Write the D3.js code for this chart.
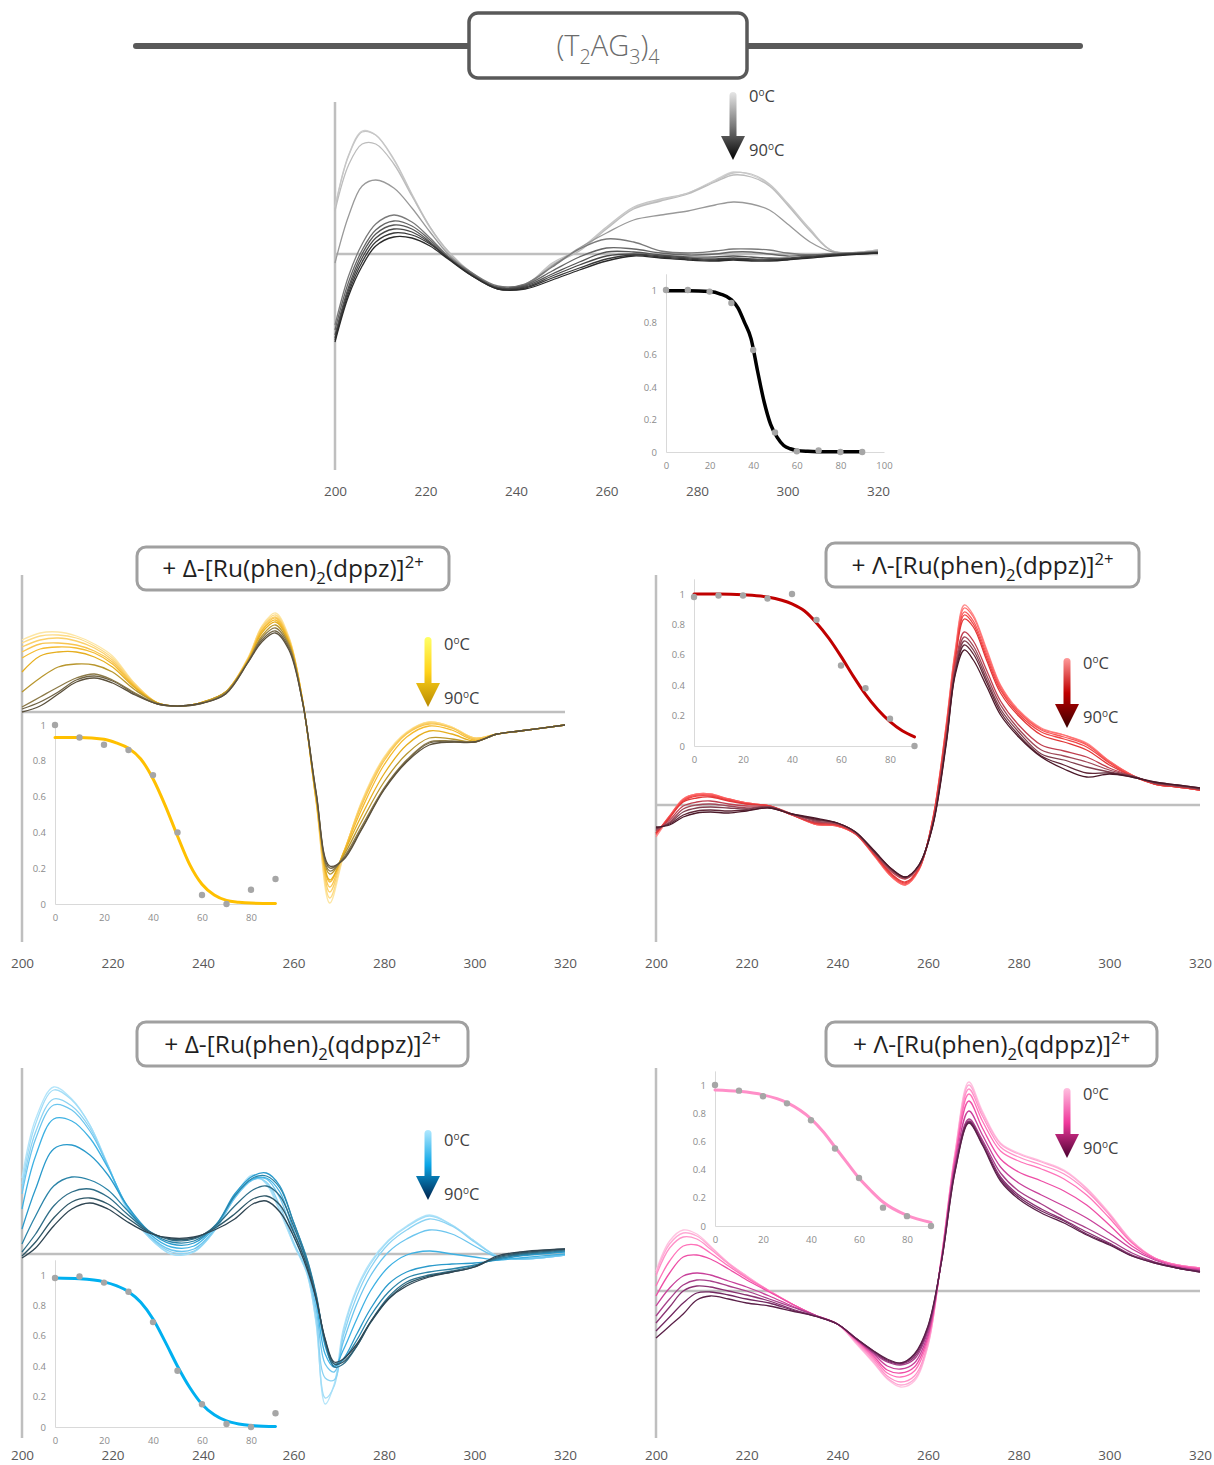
<!DOCTYPE html>
<html>
<head>
<meta charset="utf-8">
<script src="https://cdn.jsdelivr.net/npm/d3@7"></script>
<style>
  body { margin: 0; background: #fff; }
  svg { display: block; font-family: "Open Sans", "Noto Sans", sans-serif; }
</style>
</head>
<body>
<svg id="chart" width="1214" height="1465"></svg>
<script>
(() => {

    // temperatures of the CD melt, one spectrum per temperature
    const temps = [0, 10, 20, 30, 40, 50, 60, 70, 80, 90];
    const wlTicks = [200, 220, 240, 260, 280, 300, 320];

    // ---- (T2AG3)4 alone ----
    const topWl = [200, 203, 206, 209, 213, 217, 221, 225, 230, 236, 242, 248, 254, 260, 266, 272, 278, 284, 288, 292, 296, 300, 305, 310, 320];
    const topCd = [
        [4.7, 9.9, 12.3, 11.9, 9.4, 5.9, 2.6, 0.2, -1.9, -3.5, -3.2, -1.0, 0.4, 2.6, 4.6, 5.4, 6.1, 7.4, 8.2, 7.9, 6.9, 5.0, 2.4, 0.3, 0.4],
        [4.6, 9.8, 12.2, 11.9, 9.5, 6.0, 2.7, 0.2, -1.9, -3.4, -3.1, -0.9, 0.5, 2.7, 4.7, 5.5, 6.1, 7.3, 8.1, 8.0, 7.0, 5.1, 2.5, 0.3, 0.4],
        [4.3, 8.9, 11.0, 11.0, 9.0, 5.8, 2.7, 0.3, -1.8, -3.4, -3.2, -1.1, 0.3, 2.5, 4.5, 5.3, 6.0, 7.2, 7.9, 7.7, 6.8, 4.9, 2.3, 0.3, 0.4],
        [-0.9, 3.8, 6.8, 7.4, 6.6, 4.6, 2.2, 0.0, -1.8, -3.4, -3.0, -1.2, 0.6, 2.1, 3.4, 3.9, 4.3, 4.9, 5.2, 5.0, 4.4, 3.0, 1.2, 0.2, 0.3],
        [-7.1, -2.2, 1.0, 3.0, 3.9, 3.2, 1.6, -0.2, -1.8, -3.2, -3.0, -1.3, 0.5, 1.5, 1.2, 0.3, 0.1, 0.3, 0.5, 0.5, 0.4, 0.1, -0.1, 0.0, 0.2],
        [-7.6, -2.8, 0.4, 2.4, 3.3, 2.8, 1.4, -0.3, -1.9, -3.3, -3.1, -1.7, -0.3, 0.6, 0.5, 0.1, -0.1, 0.0, 0.2, 0.2, 0.0, -0.2, -0.1, 0.0, 0.2],
        [-8.1, -3.3, 0.0, 2.0, 2.9, 2.5, 1.2, -0.4, -2.0, -3.4, -3.2, -2.0, -0.8, 0.2, 0.2, -0.1, -0.3, -0.3, -0.2, -0.3, -0.4, -0.4, -0.2, -0.1, 0.1],
        [-8.4, -3.6, -0.4, 1.6, 2.5, 2.2, 1.1, -0.4, -2.0, -3.4, -3.3, -2.2, -1.1, -0.2, 0.0, -0.2, -0.4, -0.5, -0.4, -0.5, -0.5, -0.5, -0.3, -0.1, 0.1],
        [-8.6, -3.9, -0.8, 1.2, 2.1, 1.9, 1.0, -0.4, -2.1, -3.5, -3.4, -2.4, -1.4, -0.5, -0.1, -0.3, -0.5, -0.6, -0.5, -0.6, -0.6, -0.5, -0.3, -0.1, 0.1],
        [-8.8, -4.2, -1.2, 0.8, 1.7, 1.6, 0.8, -0.5, -2.1, -3.5, -3.5, -2.6, -1.6, -0.7, -0.2, -0.4, -0.6, -0.7, -0.6, -0.7, -0.7, -0.6, -0.4, -0.2, 0.1]
    ];
    const topColors = ["#d0d0d0", "#c6c6c6", "#bcbcbc", "#999999", "#7a7a7a", "#666666", "#555555", "#464646", "#383838", "#2a2a2a"];
    const topMelt = [1.0, 1.0, 0.99, 0.92, 0.63, 0.12, 0.005, 0.01, 0.0, 0.0];
    const topFitT = [0, 10, 20, 25, 30, 33, 36, 39, 42, 45, 48, 51, 54, 57, 60, 65, 70, 80, 90];
    const topFitV = [0.995, 0.995, 0.99, 0.975, 0.94, 0.89, 0.80, 0.70, 0.50, 0.31, 0.17, 0.09, 0.04, 0.02, 0.01, 0.004, 0.002, 0.001, 0.001];

    // ---- + Delta-[Ru(phen)2(dppz)]2+ ----
    const dDppzWl = [200, 204, 208, 212, 216, 220, 225, 230, 235, 240, 245, 250, 253, 256, 259, 262, 265, 268, 271, 275, 280, 285, 290, 295, 300, 305, 310, 320];
    const dDppzCd = [
        [7.2, 7.9, 8.0, 7.6, 6.8, 5.6, 2.8, 0.9, 0.6, 1.0, 2.0, 5.5, 8.6, 9.9, 7.5, 1.2, -9.0, -19.1, -14.5, -9.0, -4.5, -2.0, -1.0, -1.5, -2.6, -2.2, -1.9, -1.3],
        [6.9, 7.6, 7.7, 7.4, 6.6, 5.4, 2.8, 0.9, 0.6, 1.0, 2.0, 5.4, 8.5, 9.7, 7.4, 1.2, -9.0, -18.6, -14.4, -9.1, -4.6, -2.1, -1.0, -1.5, -2.6, -2.2, -1.9, -1.3],
        [6.5, 7.2, 7.4, 7.1, 6.4, 5.2, 2.7, 0.9, 0.6, 1.0, 2.0, 5.4, 8.4, 9.5, 7.3, 1.2, -8.9, -18.0, -14.2, -9.2, -4.7, -2.1, -1.1, -1.6, -2.6, -2.2, -1.9, -1.3],
        [6.0, 6.8, 6.9, 6.7, 6.1, 5.0, 2.6, 0.9, 0.6, 1.0, 2.0, 5.3, 8.2, 9.4, 7.2, 1.2, -8.8, -17.5, -14.1, -9.4, -4.9, -2.2, -1.2, -1.6, -2.7, -2.2, -1.9, -1.3],
        [5.4, 6.3, 6.5, 6.4, 5.9, 4.8, 2.5, 0.9, 0.6, 1.0, 2.0, 5.3, 8.1, 9.2, 7.1, 1.2, -8.7, -17.0, -14.1, -9.8, -5.3, -2.5, -1.4, -1.8, -2.8, -2.2, -1.9, -1.3],
        [4.0, 5.6, 6.0, 6.0, 5.5, 4.5, 2.4, 0.9, 0.6, 1.0, 2.0, 5.2, 7.9, 9.0, 7.0, 1.1, -8.6, -16.8, -14.2, -10.4, -6.2, -3.3, -1.9, -2.2, -2.9, -2.2, -1.9, -1.3],
        [2.0, 3.4, 4.5, 4.8, 4.7, 4.0, 2.2, 0.9, 0.6, 1.0, 2.0, 5.1, 7.6, 8.7, 6.8, 1.1, -8.4, -16.2, -14.4, -11.0, -7.0, -4.2, -2.6, -2.7, -3.0, -2.2, -1.9, -1.3],
        [0.5, 1.5, 2.5, 3.4, 3.8, 3.2, 1.9, 0.8, 0.6, 0.9, 1.9, 5.1, 7.4, 8.4, 6.6, 1.0, -8.2, -15.9, -14.6, -11.5, -7.6, -4.8, -3.0, -2.9, -3.0, -2.2, -1.9, -1.3],
        [0.3, 1.0, 2.0, 3.2, 3.6, 3.1, 1.8, 0.8, 0.6, 0.9, 1.8, 5.0, 7.2, 8.1, 6.4, 1.0, -8.1, -15.6, -14.7, -11.7, -7.7, -4.9, -3.1, -3.0, -3.0, -2.2, -1.9, -1.3],
        [0.0, 0.6, 1.8, 3.0, 3.4, 2.9, 1.7, 0.8, 0.6, 0.9, 1.8, 5.0, 7.0, 7.9, 6.2, 1.0, -8.0, -15.4, -14.8, -11.8, -7.8, -5.0, -3.3, -3.0, -3.0, -2.2, -1.9, -1.3]
    ];
    const dDppzColors = ["#fde6a4", "#fddb86", "#fbd06a", "#f8c550", "#f5bb30", "#e6ae1e", "#b8962e", "#8c7a48", "#706446", "#5a503c"];
    const dDppzMelt = [1.0, 0.93, 0.89, 0.86, 0.72, 0.40, 0.05, 0.0, 0.08, 0.14];
    const dDppzFitT = [0, 10, 20, 25, 30, 35, 40, 45, 50, 55, 60, 65, 70, 75, 80, 90];
    const dDppzFitV = [0.93, 0.93, 0.92, 0.90, 0.87, 0.81, 0.70, 0.55, 0.38, 0.22, 0.11, 0.05, 0.02, 0.01, 0.005, 0.003];

    // ---- + Lambda-[Ru(phen)2(dppz)]2+ ----
    const lDppzWl = [200, 203, 206, 209, 212, 216, 220, 225, 230, 235, 240, 244, 248, 252, 255, 258, 261, 264, 266, 268, 270, 273, 276, 280, 285, 290, 295, 300, 305, 310, 315, 320];
    const lDppzCd = [
        [-3.2, -1.2, 0.6, 1.1, 1.1, 0.6, 0.2, -0.1, -0.9, -1.9, -2.1, -2.9, -5.0, -7.2, -8.0, -6.5, -1.5, 8.0, 15.5, 20.0, 19.0, 15.5, 12.0, 9.5, 7.7, 7.0, 6.2, 4.4, 3.0, 2.1, 1.8, 1.5],
        [-3.0, -1.1, 0.6, 1.1, 1.1, 0.6, 0.2, -0.1, -0.9, -1.9, -2.1, -2.9, -5.0, -7.2, -8.0, -6.5, -1.5, 7.9, 15.3, 19.7, 18.8, 15.3, 11.9, 9.4, 7.6, 7.0, 6.1, 4.4, 3.0, 2.1, 1.8, 1.5],
        [-2.9, -1.1, 0.5, 1.0, 1.0, 0.6, 0.2, -0.1, -1.0, -1.9, -2.1, -2.9, -4.9, -7.1, -7.9, -6.4, -1.6, 7.7, 15.0, 19.3, 18.4, 15.0, 11.7, 9.3, 7.5, 6.8, 6.0, 4.3, 3.0, 2.1, 1.8, 1.5],
        [-2.8, -1.2, 0.4, 0.9, 0.9, 0.5, 0.1, -0.1, -1.0, -1.8, -2.0, -2.9, -4.9, -7.0, -7.8, -6.4, -1.6, 7.5, 14.7, 19.0, 18.1, 14.7, 11.5, 9.1, 7.3, 6.6, 5.8, 4.2, 2.9, 2.1, 1.8, 1.5],
        [-2.8, -1.3, 0.3, 0.7, 0.8, 0.4, 0.1, -0.1, -1.0, -1.8, -2.0, -2.8, -4.8, -6.9, -7.7, -6.3, -1.7, 7.3, 14.4, 18.6, 17.8, 14.4, 11.2, 8.9, 7.0, 6.3, 5.5, 4.0, 2.9, 2.1, 1.8, 1.5],
        [-2.6, -1.5, -0.1, 0.3, 0.4, 0.1, -0.1, -0.2, -1.0, -1.7, -1.9, -2.8, -4.7, -6.7, -7.4, -6.2, -1.9, 6.8, 14.0, 17.3, 16.4, 13.4, 10.4, 8.0, 6.0, 5.4, 4.8, 3.7, 2.9, 2.2, 1.9, 1.6],
        [-2.5, -1.7, -0.4, 0.0, 0.1, -0.1, -0.3, -0.2, -0.9, -1.6, -1.9, -2.8, -4.7, -6.6, -7.3, -6.1, -2.0, 6.6, 13.7, 16.8, 15.9, 12.9, 10.0, 7.6, 5.5, 4.9, 4.3, 3.5, 2.9, 2.2, 1.9, 1.6],
        [-2.4, -1.8, -0.7, -0.3, -0.2, -0.3, -0.4, -0.2, -0.9, -1.5, -1.8, -2.7, -4.6, -6.5, -7.3, -6.1, -2.1, 6.4, 13.4, 16.4, 15.5, 12.5, 9.6, 7.3, 5.1, 4.5, 3.8, 3.3, 2.9, 2.2, 1.9, 1.6],
        [-2.3, -1.9, -1.0, -0.6, -0.5, -0.6, -0.5, -0.3, -0.9, -1.4, -1.8, -2.7, -4.6, -6.4, -7.2, -6.0, -2.1, 6.2, 13.2, 16.0, 15.1, 12.2, 9.3, 7.0, 4.9, 4.0, 3.2, 3.2, 2.8, 2.3, 2.0, 1.7],
        [-2.2, -2.0, -1.2, -0.8, -0.7, -0.8, -0.6, -0.3, -0.9, -1.3, -1.8, -2.7, -4.5, -6.4, -7.2, -6.0, -2.2, 6.0, 13.0, 15.5, 14.5, 11.8, 9.0, 6.8, 4.8, 3.6, 2.8, 3.1, 2.8, 2.3, 2.0, 1.7]
    ];
    const lDppzColors = ["#ff8a8a", "#ff7070", "#f85a5a", "#f04646", "#e23838", "#c04050", "#a04858", "#80404f", "#602838", "#4a1828"];
    const lDppzMelt = [0.98, 0.99, 0.99, 0.97, 1.0, 0.83, 0.53, 0.38, 0.18, 0.0];
    const lDppzFitT = [0, 10, 20, 30, 40, 45, 50, 55, 60, 65, 70, 75, 80, 85, 90];
    const lDppzFitV = [1.0, 1.0, 0.995, 0.98, 0.935, 0.89, 0.81, 0.71, 0.59, 0.46, 0.34, 0.24, 0.16, 0.10, 0.06];

    // ---- + Delta-[Ru(phen)2(qdppz)]2+ ----
    const dQdppzWl = [200, 203, 207, 211, 215, 219, 223, 228, 233, 238, 243, 247, 251, 254, 257, 260, 263, 265, 267, 269, 271, 274, 277, 281, 285, 290, 295, 300, 305, 310, 320];
    const dQdppzCd = [
        [7.6, 13.5, 16.7, 15.5, 12.9, 8.8, 4.6, 1.7, 0.0, 0.2, 2.6, 5.8, 7.9, 7.0, 4.2, 1.0, -2.0, -7.0, -15.0, -13.0, -7.5, -3.4, -0.8, 1.4, 2.8, 3.9, 2.9, 1.3, -0.2, -0.5, -0.1],
        [7.0, 13.0, 16.4, 15.4, 12.9, 8.9, 4.7, 1.7, 0.0, 0.2, 2.6, 5.8, 7.8, 7.1, 4.4, 1.0, -2.0, -6.8, -14.4, -13.2, -7.8, -3.6, -1.0, 1.3, 2.7, 3.8, 2.9, 1.3, -0.2, -0.5, -0.1],
        [6.5, 12.2, 15.5, 14.8, 12.6, 8.8, 4.8, 1.8, 0.2, 0.3, 2.6, 5.6, 7.5, 7.2, 4.8, 1.2, -1.8, -6.2, -12.4, -12.6, -8.2, -4.2, -1.4, 1.0, 2.4, 3.5, 2.8, 1.2, -0.2, -0.5, -0.1],
        [6.0, 11.5, 14.9, 14.4, 12.3, 8.8, 4.9, 1.9, 0.4, 0.5, 2.7, 5.6, 7.4, 7.5, 5.6, 1.8, -1.5, -5.5, -11.0, -11.8, -8.8, -5.0, -2.2, 0.2, 1.5, 2.4, 2.0, 0.8, -0.3, -0.5, -0.1],
        [4.5, 9.8, 13.5, 13.3, 11.6, 8.6, 5.0, 2.1, 0.7, 0.8, 2.9, 5.8, 7.5, 7.6, 6.2, 2.4, -1.0, -4.8, -10.0, -11.3, -9.6, -6.5, -3.7, -1.3, -0.1, 0.3, 0.0, -0.3, -0.6, -0.4, 0.0],
        [2.5, 6.5, 10.5, 10.9, 9.9, 7.9, 5.0, 2.3, 1.0, 1.1, 3.0, 6.0, 7.8, 8.1, 6.8, 3.2, -0.6, -4.2, -9.2, -11.2, -10.5, -8.0, -5.5, -3.0, -1.8, -1.2, -1.0, -0.9, -0.6, -0.2, 0.2],
        [1.0, 3.8, 6.8, 7.7, 7.4, 6.4, 4.5, 2.3, 1.2, 1.3, 3.0, 5.8, 7.6, 7.8, 6.6, 3.2, -0.5, -4.0, -8.8, -11.0, -10.6, -8.6, -6.2, -3.8, -2.4, -1.8, -1.5, -1.1, -0.5, -0.1, 0.3],
        [0.2, 2.0, 4.8, 6.2, 6.5, 5.7, 4.1, 2.3, 1.4, 1.5, 2.9, 4.8, 6.4, 6.8, 5.8, 2.8, -0.8, -4.2, -8.8, -11.3, -11.0, -9.2, -6.8, -4.3, -2.8, -2.1, -1.7, -1.2, -0.4, 0.0, 0.4],
        [-0.2, 1.2, 3.6, 5.2, 5.6, 5.0, 3.7, 2.2, 1.5, 1.6, 2.7, 4.0, 5.5, 5.8, 4.9, 2.2, -1.2, -4.4, -8.6, -11.0, -10.8, -9.2, -6.9, -4.5, -3.0, -2.2, -1.8, -1.3, -0.3, 0.1, 0.5],
        [-0.4, 0.6, 2.8, 4.5, 5.1, 4.5, 3.3, 2.1, 1.6, 1.7, 2.5, 3.5, 5.0, 5.3, 4.2, 1.8, -1.5, -4.5, -8.5, -10.8, -10.5, -9.0, -6.8, -4.5, -3.2, -2.3, -1.8, -1.3, -0.2, 0.2, 0.5]
    ];
    const dQdppzColors = ["#b4e5fa", "#a2ddf7", "#8cd3f3", "#6cc5ee", "#3db1e3", "#2a9acb", "#2b84a8", "#2f6e88", "#2f5868", "#2f4552"];
    const dQdppzMelt = [0.98, 0.99, 0.95, 0.89, 0.69, 0.37, 0.15, 0.02, 0.0, 0.09];
    const dQdppzFitT = [0, 10, 20, 25, 30, 35, 40, 45, 50, 55, 60, 65, 70, 75, 80, 90];
    const dQdppzFitV = [0.98, 0.975, 0.955, 0.93, 0.89, 0.82, 0.71, 0.56, 0.40, 0.26, 0.15, 0.08, 0.04, 0.02, 0.01, 0.003];

    // ---- + Lambda-[Ru(phen)2(qdppz)]2+ ----
    const lQdppzWl = [200, 203, 206, 209, 212, 216, 220, 225, 230, 235, 240, 244, 248, 251, 254, 257, 260, 263, 266, 269, 272, 276, 280, 285, 290, 295, 300, 305, 310, 315, 320];
    const lQdppzCd = [
        [2.0, 5.0, 6.1, 5.7, 4.5, 2.8, 1.5, 0.0, -1.3, -2.4, -3.3, -5.2, -7.2, -8.8, -9.6, -9.0, -5.5, 3.5, 14.0, 20.9, 18.0, 14.8, 13.8, 13.0, 12.1, 10.3, 7.8, 5.0, 3.3, 2.6, 2.3],
        [1.8, 4.7, 5.8, 5.5, 4.4, 2.8, 1.5, 0.0, -1.3, -2.4, -3.3, -5.1, -7.1, -8.7, -9.4, -8.8, -5.4, 3.5, 13.9, 20.6, 17.8, 14.7, 13.7, 12.9, 12.0, 10.2, 7.7, 5.0, 3.3, 2.6, 2.3],
        [1.5, 4.3, 5.4, 5.2, 4.2, 2.7, 1.4, 0.0, -1.3, -2.4, -3.3, -5.0, -6.9, -8.5, -9.1, -8.5, -5.2, 3.5, 13.7, 20.2, 17.5, 14.4, 13.4, 12.6, 11.7, 10.0, 7.6, 4.9, 3.3, 2.6, 2.3],
        [0.5, 3.0, 4.5, 4.6, 3.8, 2.5, 1.3, 0.0, -1.3, -2.4, -3.3, -4.9, -6.7, -8.2, -8.6, -8.0, -4.9, 3.4, 13.5, 19.7, 17.0, 14.0, 13.0, 12.2, 11.2, 9.6, 7.3, 4.8, 3.3, 2.6, 2.3],
        [-0.5, 1.8, 3.4, 3.6, 3.2, 2.2, 1.1, -0.1, -1.3, -2.4, -3.3, -4.8, -6.5, -7.9, -8.2, -7.6, -4.6, 3.3, 13.2, 19.0, 16.3, 13.2, 11.9, 11.0, 10.0, 8.6, 6.6, 4.5, 3.2, 2.5, 2.2],
        [-1.5, 0.3, 1.5, 1.8, 1.6, 1.0, 0.4, -0.5, -1.5, -2.4, -3.3, -4.8, -6.3, -7.5, -7.8, -7.2, -4.3, 3.2, 12.8, 18.0, 15.6, 12.4, 10.8, 9.6, 8.5, 7.3, 5.8, 4.2, 3.1, 2.4, 2.1],
        [-2.5, -0.8, 0.6, 1.1, 1.0, 0.5, 0.0, -0.8, -1.6, -2.4, -3.3, -4.7, -6.2, -7.1, -7.4, -6.8, -4.0, 3.1, 12.5, 17.2, 15.1, 11.8, 10.0, 8.7, 7.4, 6.3, 5.1, 3.8, 2.9, 2.3, 2.0],
        [-3.2, -1.6, 0.0, 0.5, 0.4, 0.0, -0.4, -1.0, -1.8, -2.5, -3.3, -4.7, -6.1, -7.0, -7.3, -6.6, -3.8, 3.1, 12.3, 17.0, 14.9, 11.4, 9.6, 8.2, 7.1, 5.9, 4.8, 3.6, 2.9, 2.3, 2.0],
        [-4.0, -2.6, -1.2, -0.2, -0.1, -0.4, -0.8, -1.2, -1.9, -2.5, -3.3, -4.7, -6.0, -6.9, -7.2, -6.4, -3.6, 3.0, 12.1, 16.9, 14.7, 11.2, 9.4, 8.0, 7.0, 5.7, 4.7, 3.5, 2.8, 2.3, 1.9],
        [-4.7, -3.5, -2.3, -0.9, -0.5, -0.8, -1.2, -1.5, -2.0, -2.5, -3.3, -4.7, -6.0, -6.8, -7.2, -6.3, -3.5, 3.0, 12.0, 16.8, 14.6, 11.0, 9.2, 7.8, 6.8, 5.6, 4.6, 3.5, 2.8, 2.3, 1.9]
    ];
    const lQdppzColors = ["#ffc2e0", "#ffaad5", "#ff92c9", "#ff72b9", "#ee4ea6", "#c8409a", "#a8408a", "#8a3272", "#722860", "#5a2048"];
    const lQdppzMelt = [1.0, 0.96, 0.92, 0.87, 0.75, 0.55, 0.34, 0.13, 0.07, 0.0];
    const lQdppzFitT = [0, 10, 20, 30, 40, 45, 50, 55, 60, 65, 70, 80, 90];
    const lQdppzFitV = [0.965, 0.955, 0.93, 0.875, 0.76, 0.67, 0.56, 0.45, 0.34, 0.25, 0.17, 0.075, 0.025];

    const AXIS_GREY = "#bfbfbf";
    const LABEL_GREY = "#595959";
    const INSET_GREY = "#8c8c8c";

    const svg = d3.select("#chart");
    svg.append("rect").attr("width", 1214).attr("height", 1465).attr("fill", "#fff");
    const defs = svg.append("defs");

    function drawSpectra(p) {
        let x = d3.scaleLinear().domain([200, 320]).range([p.x0, p.x1]);
        let y = d3.scaleLinear().domain([0, 1]).range([p.zero, p.zero - 10]);
        let g = svg.append("g").attr("class", "spectra");

        g.append("line")
            .attr("x1", p.x0).attr("x2", p.x0)
            .attr("y1", p.axisTop).attr("y2", p.axisBottom)
            .attr("stroke", AXIS_GREY).attr("stroke-width", 2.5);
        g.append("line")
            .attr("x1", p.x0).attr("x2", p.x1)
            .attr("y1", p.zero).attr("y2", p.zero)
            .attr("stroke", AXIS_GREY).attr("stroke-width", 2.5);

        let axis = g.append("g")
            .attr("transform", `translate(0, ${p.labelY - 5})`)
            .call(d3.axisBottom(x).tickValues(wlTicks).tickSize(0).tickPadding(0));
        axis.select(".domain").remove();
        axis.selectAll("text")
            .attr("fill", LABEL_GREY)
            .style("font-size", "13.5px")
            .style("font-family", "'Open Sans', sans-serif");

        let line = d3.line()
            .x(d => x(d[0]))
            .y(d => y(d[1]))
            .curve(d3.curveCatmullRom.alpha(0.5));

        g.selectAll("path.cd")
            .data(p.cd)
            .join("path")
            .attr("class", "cd")
            .attr("fill", "none")
            .attr("stroke", (d, i) => p.colors[i])
            .attr("stroke-width", 1.3)
            .attr("d", d => line(d.map((v, j) => [p.wl[j], v])));
    }

    function drawInset(m) {
        let x = d3.scaleLinear().domain([0, m.xMax]).range([m.ox, m.ox + m.xMax * m.pxPerT]);
        let y = d3.scaleLinear().domain([0, m.yMax]).range([m.oy, m.oy - m.yMax * m.pxPerUnit]);
        let g = svg.append("g").attr("class", "inset");

        let xa = g.append("g")
            .attr("transform", `translate(0, ${m.oy})`)
            .call(d3.axisBottom(x).tickValues(m.xTicks).tickSize(0).tickPadding(10));
        let ya = g.append("g")
            .attr("transform", `translate(${m.ox}, 0)`)
            .call(d3.axisLeft(y).tickValues([0, 0.2, 0.4, 0.6, 0.8, 1]).tickFormat(d3.format("~g")).tickSize(0).tickPadding(9));
        [xa, ya].forEach(a => {
            a.select(".domain").attr("stroke", "#d9d9d9").attr("stroke-width", 1);
            a.selectAll("text")
                .attr("fill", INSET_GREY)
                .style("font-size", "9.5px")
                .style("font-family", "'Open Sans', sans-serif");
        });

        let fit = d3.line()
            .x(d => x(d[0]))
            .y(d => y(d[1]))
            .curve(d3.curveMonotoneX);
        g.append("path")
            .attr("fill", "none")
            .attr("stroke", m.color)
            .attr("stroke-width", m.width)
            .attr("stroke-linecap", "round")
            .attr("d", fit(m.fitT.map((t, i) => [t, m.fitV[i]])));

        g.selectAll("circle")
            .data(m.melt)
            .join("circle")
            .attr("cx", (d, i) => x(temps[i]))
            .attr("cy", d => y(d))
            .attr("r", 3.2)
            .attr("fill", "#a6a6a6");
    }

    function drawArrow(a) {
        let id = `grad-${a.id}`;
        let grad = defs.append("linearGradient")
            .attr("id", id)
            .attr("gradientUnits", "userSpaceOnUse")
            .attr("x1", 0).attr("x2", 0)
            .attr("y1", a.top).attr("y2", a.bottom);
        a.stops.forEach((c, i) => {
            grad.append("stop")
                .attr("offset", i / (a.stops.length - 1))
                .attr("stop-color", c);
        });
        let g = svg.append("g").attr("class", "arrow");
        g.append("rect")
            .attr("x", a.x - 3.5).attr("width", 7)
            .attr("y", a.top).attr("height", a.bottom - a.top - 20)
            .attr("rx", 3.5)
            .attr("fill", `url(#${id})`);
        g.append("path")
            .attr("d", `M${a.x - 12},${a.bottom - 24} L${a.x + 12},${a.bottom - 24} L${a.x},${a.bottom} Z`)
            .attr("fill", `url(#${id})`);

        [["0", a.labelTop], ["90", a.labelBottom]].forEach(([t, ly]) => {
            let txt = g.append("text")
                .attr("x", a.x + 16)
                .attr("y", ly + 6)
                .attr("fill", "#404040")
                .style("font-size", "16.5px");
            txt.append("tspan").text(t);
            txt.append("tspan").attr("dy", -6).style("font-size", "10px").text("o");
            txt.append("tspan").attr("dy", 6).text("C");
        });
    }

    function drawTitle(b) {
        let g = svg.append("g").attr("class", "title");
        g.append("rect")
            .attr("x", b.x).attr("y", b.y)
            .attr("width", b.w).attr("height", b.h)
            .attr("rx", 9)
            .attr("fill", "#fff")
            .attr("stroke", b.stroke)
            .attr("stroke-width", b.strokeWidth);
        let txt = g.append("text")
            .attr("x", b.x + b.w / 2)
            .attr("y", b.y + b.h / 2 + b.size * 0.36)
            .attr("text-anchor", "middle")
            .attr("fill", b.color)
            .style("font-size", b.size + "px")
            .style("font-weight", b.weight);
        let shift = 0;
        b.parts.forEach(([t, kind]) => {
            let target = kind === "sub" ? b.size * 0.28 : kind === "sup" ? -b.size * 0.38 : 0;
            let dy = target - shift;
            shift = target;
            txt.append("tspan")
                .attr("dy", dy)
                .style("font-size", kind ? (b.size * 0.68) + "px" : b.size + "px")
                .text(t);
        });
    }

    // header line behind the top title box
    svg.append("line")
        .attr("x1", 136).attr("x2", 1080)
        .attr("y1", 46).attr("y2", 46)
        .attr("stroke", "#595959")
        .attr("stroke-width", 6)
        .attr("stroke-linecap", "round");

    const panels = [
        { wl: topWl, cd: topCd, colors: topColors, x0: 335, x1: 878, zero: 254, axisTop: 102, axisBottom: 470, labelY: 491 },
        { wl: dDppzWl, cd: dDppzCd, colors: dDppzColors, x0: 22, x1: 565, zero: 712, axisTop: 575, axisBottom: 942, labelY: 963 },
        { wl: lDppzWl, cd: lDppzCd, colors: lDppzColors, x0: 656, x1: 1200, zero: 805, axisTop: 575, axisBottom: 942, labelY: 963 },
        { wl: dQdppzWl, cd: dQdppzCd, colors: dQdppzColors, x0: 22, x1: 565, zero: 1254, axisTop: 1068, axisBottom: 1438, labelY: 1455 },
        { wl: lQdppzWl, cd: lQdppzCd, colors: lQdppzColors, x0: 656, x1: 1200, zero: 1291, axisTop: 1068, axisBottom: 1438, labelY: 1455 }
    ];
    panels.forEach(drawSpectra);

    const insets = [
        { melt: topMelt, fitT: topFitT, fitV: topFitV, color: "#000", width: 3.5, ox: 666, oy: 452, pxPerT: 2.18, pxPerUnit: 162, xMax: 100, yMax: 1.1, xTicks: [0, 20, 40, 60, 80, 100] },
        { melt: dDppzMelt, fitT: dDppzFitT, fitV: dDppzFitV, color: "#ffc000", width: 3, ox: 55, oy: 904, pxPerT: 2.45, pxPerUnit: 179, xMax: 90, yMax: 1.02, xTicks: [0, 20, 40, 60, 80] },
        { melt: lDppzMelt, fitT: lDppzFitT, fitV: lDppzFitV, color: "#c00000", width: 3, ox: 694, oy: 746, pxPerT: 2.45, pxPerUnit: 152, xMax: 90, yMax: 1.1, xTicks: [0, 20, 40, 60, 80] },
        { melt: dQdppzMelt, fitT: dQdppzFitT, fitV: dQdppzFitV, color: "#00b0f0", width: 3, ox: 55, oy: 1427, pxPerT: 2.45, pxPerUnit: 152, xMax: 90, yMax: 1.1, xTicks: [0, 20, 40, 60, 80] },
        { melt: lQdppzMelt, fitT: lQdppzFitT, fitV: lQdppzFitV, color: "#ff8fc8", width: 3, ox: 715, oy: 1226, pxPerT: 2.4, pxPerUnit: 141, xMax: 90, yMax: 1.1, xTicks: [0, 20, 40, 60, 80] }
    ];
    insets.forEach(drawInset);

    const arrows = [
        { id: "top", x: 733, top: 92, bottom: 160, labelTop: 96, labelBottom: 150, stops: ["#e6e6e6", "#7a7a7a", "#000000"] },
        { id: "ddppz", x: 428, top: 637, bottom: 707, labelTop: 644, labelBottom: 698, stops: ["#ffff66", "#ffd21a", "#b88a00"] },
        { id: "ldppz", x: 1067, top: 658, bottom: 728, labelTop: 663, labelBottom: 717, stops: ["#ff9a9a", "#c00000", "#3a0000"] },
        { id: "dqdppz", x: 428, top: 1130, bottom: 1200, labelTop: 1140, labelBottom: 1194, stops: ["#b0e8ff", "#0aa5e6", "#00214a"] },
        { id: "lqdppz", x: 1067, top: 1088, bottom: 1158, labelTop: 1094, labelBottom: 1148, stops: ["#ffc0e0", "#f0389c", "#4a0030"] }
    ];
    arrows.forEach(drawArrow);

    const titles = [
        { x: 469, y: 13, w: 278, h: 65, size: 29, color: "#6b6b6b", stroke: "#595959", strokeWidth: 3.5, weight: 300,
          parts: [["(T"], ["2", "sub"], ["AG"], ["3", "sub"], [")"], ["4", "sub"]] },
        { x: 137, y: 547, w: 312, h: 43, size: 24.5, color: "#1f1f1f", stroke: "#a0a0a0", strokeWidth: 3, weight: 400,
          parts: [["+ \u0394-[Ru(phen)"], ["2", "sub"], ["(dppz)]"], ["2+", "sup"]] },
        { x: 826, y: 543, w: 313, h: 44, size: 24.5, color: "#1f1f1f", stroke: "#a0a0a0", strokeWidth: 3, weight: 400,
          parts: [["+ \u039B-[Ru(phen)"], ["2", "sub"], ["(dppz)]"], ["2+", "sup"]] },
        { x: 137, y: 1022, w: 331, h: 44, size: 24.5, color: "#1f1f1f", stroke: "#a0a0a0", strokeWidth: 3, weight: 400,
          parts: [["+ \u0394-[Ru(phen)"], ["2", "sub"], ["(qdppz)]"], ["2+", "sup"]] },
        { x: 826, y: 1022, w: 331, h: 44, size: 24.5, color: "#1f1f1f", stroke: "#a0a0a0", strokeWidth: 3, weight: 400,
          parts: [["+ \u039B-[Ru(phen)"], ["2", "sub"], ["(qdppz)]"], ["2+", "sup"]] }
    ];
    titles.forEach(drawTitle);

})();
</script>
</body>
</html>
